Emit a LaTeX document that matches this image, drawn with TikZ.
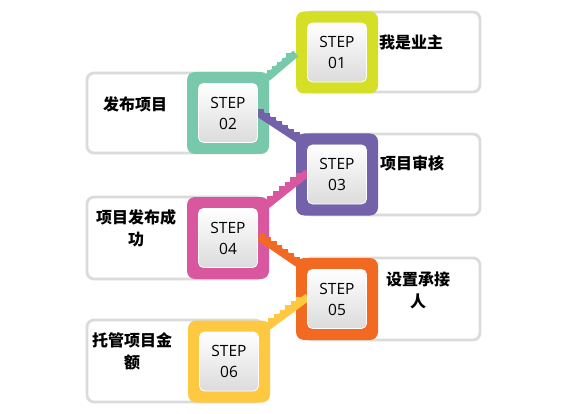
\documentclass[tikz,border=0pt]{standalone}
\usepackage{fontspec}
\usepackage{tikz}
\usetikzlibrary{calc,positioning}
\newfontfamily\stepfont{Open Sans}
\newfontfamily\cjk{Noto Sans CJK SC}
\definecolor{cOne}{HTML}{D4DF26}
\definecolor{cTwo}{HTML}{78C8AC}
\definecolor{cThree}{HTML}{7362A9}
\definecolor{cFour}{HTML}{D9579F}
\definecolor{cFive}{HTML}{F26A21}
\definecolor{cSix}{HTML}{FEC841}

\begin{document}
\begin{tikzpicture}[x=1pt,y=-1pt,
   card/.style={fill=white,draw=gray!28,line width=2.8pt,rounded corners=7pt},
   frame/.style={minimum size=82pt,rounded corners=8pt,inner sep=0pt},
   stepbox/.style={minimum size=59pt,rounded corners=5pt,draw=white,line width=0.8pt,
      top color=white,bottom color=gray!28,inner sep=0pt,align=center,
      font=\stepfont\fontsize{15.5}{21}\selectfont},
   label/.style={font=\cjk\bfseries\fontsize{16}{22}\selectfont,align=center},
   stair/.style={line width=7.5pt}]
  \useasboundingbox (0,0) rectangle (572,414);
  % cards behind the steps
  \draw[card] (87,73) rectangle (262,153);
  \draw[card] (87,197) rectangle (262,279);
  \draw[card] (87,320) rectangle (262,402);
  \draw[card] (305,12) rectangle (480,92);
  \draw[card] (305,134) rectangle (480,215);
  \draw[card] (305,258) rectangle (480,340);
  % coloured frames
  \foreach \id/\x/\y/\c in {01/337/52.5/cOne,02/228/113/cTwo,03/337/174.5/cThree,
                            04/228/238/cFour,05/337/299/cFive,06/229/361.5/cSix}
    \node[frame,fill=\c] (s\id) at (\x,\y) {};
  % stair ends
  \coordinate (g1) at ($(s02.north east)+(-2,6)$);
  \coordinate (g2) at ($(s01.west)+(0,1)$);
  \coordinate (p1) at ($(s02.east)+(-11,0)$);
  \coordinate (p2) at ($(s03.north west)+(4,7)$);
  \coordinate (k1) at ($(s04.north east)+(-2,8)$);
  \coordinate (k2) at ($(s03.west)+(12,-2)$);
  \coordinate (o1) at ($(s04.east)+(-10,-1)$);
  \coordinate (o2) at ($(s05.north west)+(4,7)$);
  \coordinate (y1) at ($(s06.north east)+(-2,6)$);
  \coordinate (y2) at ($(s05.west)+(12,-2)$);
  % stairs: band plus one block per step
  \foreach \a/\b/\c/\num/\d in {g1/g2/cTwo/6/-1,p1/p2/cThree/7/1,k1/k2/cFour/7/-1,
                                o1/o2/cFive/7/1,y1/y2/cSix/7/-1}{
    \draw[stair,\c] (\a) -- (\b);
    \foreach \k [evaluate=\k as \f using (\k-1)/\num] in {1,...,\num}
      \fill[\c] let \p1=($(\b)-(\a)$) in
        ($(\a)!\f!(\b)$) rectangle ++({(\d)*(\x1)/\num},{-(\d)*(\y1)/\num});
  }
  % inner boxes
  \foreach \id in {01,02,03,04,05,06}
    \node[stepbox] (in\id) at (s\id) {STEP\\\id};
  % labels
  \node[label] (t01) at (411,42) {我是业主};
  \node[label] (t02) at (135,104) {发布项目};
  \node[label] (t03) at (412,163) {项目审核};
  \node[label] (t04) at (136,228) {项目发布成\\功};
  \node[label] (t05) at (418,290) {设置承接\\人};
  \node[label] (t06) at (132,351) {托管项目金\\额};
\end{tikzpicture}
\end{document}
